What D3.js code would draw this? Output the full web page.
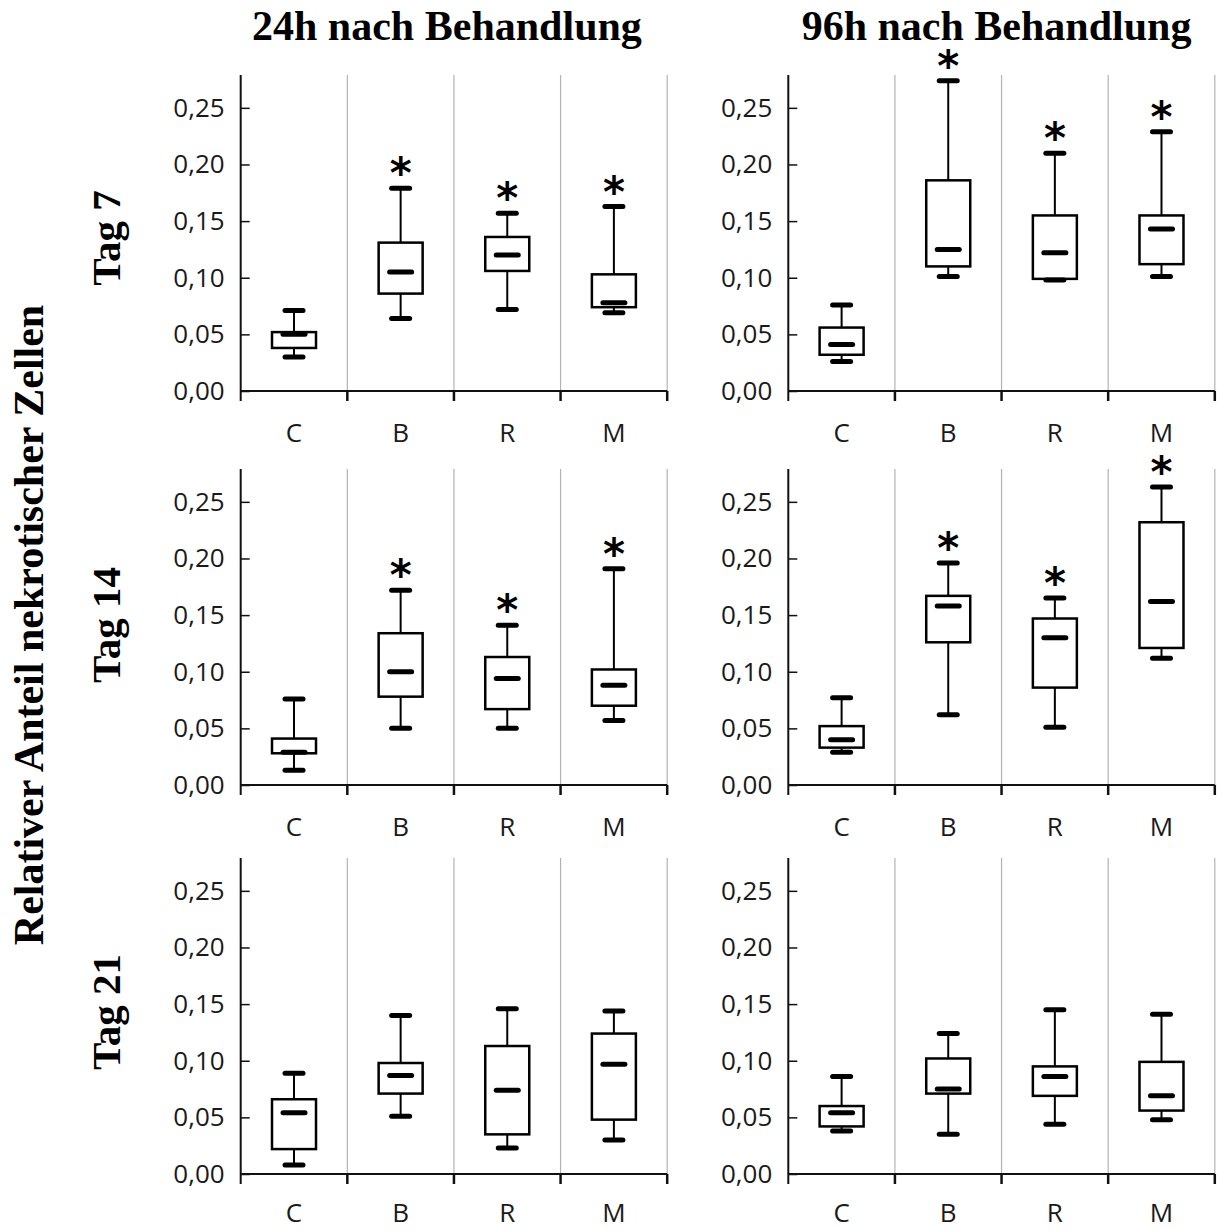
<!DOCTYPE html>
<html>
<head>
<meta charset="utf-8">
<script src="https://cdn.jsdelivr.net/npm/d3@7"></script>
<style>
  html, body { margin: 0; padding: 0; background: #fff; }
  svg { display: block; }
</style>
</head>
<body>
<svg id="chart" width="1217" height="1231"></svg>
<script>
// ---------- data ----------
const categories = ["C", "B", "R", "M"];
const columnTitles = ["24h nach Behandlung", "96h nach Behandlung"];
const rowLabels = ["Tag 7", "Tag 14", "Tag 21"];
const yAxisTitle = "Relativer Anteil nekrotischer Zellen";
const yTicks = [0, 0.05, 0.10, 0.15, 0.20, 0.25];

// five-number summaries per category: [whisker low, Q1, median, Q3, whisker high]
const tag7_24h = [
  [0.030, 0.038, 0.050, 0.052, 0.071],
  [0.064, 0.086, 0.105, 0.131, 0.179],
  [0.072, 0.106, 0.120, 0.136, 0.157],
  [0.069, 0.074, 0.078, 0.103, 0.163]
];
const tag7_96h = [
  [0.026, 0.032, 0.041, 0.056, 0.076],
  [0.101, 0.110, 0.125, 0.186, 0.274],
  [0.098, 0.099, 0.122, 0.155, 0.210],
  [0.101, 0.112, 0.143, 0.155, 0.229]
];
const tag14_24h = [
  [0.013, 0.028, 0.029, 0.041, 0.076],
  [0.050, 0.078, 0.100, 0.134, 0.172],
  [0.050, 0.067, 0.094, 0.113, 0.141],
  [0.057, 0.070, 0.088, 0.102, 0.191]
];
const tag14_96h = [
  [0.029, 0.033, 0.040, 0.052, 0.077],
  [0.062, 0.126, 0.158, 0.167, 0.196],
  [0.051, 0.086, 0.130, 0.147, 0.165],
  [0.112, 0.121, 0.162, 0.232, 0.263]
];
const tag21_24h = [
  [0.008, 0.022, 0.054, 0.066, 0.089],
  [0.051, 0.071, 0.087, 0.098, 0.140],
  [0.023, 0.035, 0.074, 0.113, 0.146],
  [0.030, 0.048, 0.097, 0.124, 0.144]
];
const tag21_96h = [
  [0.038, 0.042, 0.054, 0.060, 0.086],
  [0.035, 0.071, 0.075, 0.102, 0.124],
  [0.044, 0.069, 0.086, 0.095, 0.145],
  [0.048, 0.056, 0.069, 0.099, 0.141]
];
// significance markers (*)
const sig_tag7_24h  = [false, true, true, true];
const sig_tag7_96h  = [false, true, true, true];
const sig_tag14_24h = [false, true, true, true];
const sig_tag14_96h = [false, true, true, true];
const sig_tag21_24h = [false, false, false, false];
const sig_tag21_96h = [false, false, false, false];

const panels = [
  { row: 0, col: 0, stats: tag7_24h,  sig: sig_tag7_24h },
  { row: 0, col: 1, stats: tag7_96h,  sig: sig_tag7_96h },
  { row: 1, col: 0, stats: tag14_24h, sig: sig_tag14_24h },
  { row: 1, col: 1, stats: tag14_96h, sig: sig_tag14_96h },
  { row: 2, col: 0, stats: tag21_24h, sig: sig_tag21_24h },
  { row: 2, col: 1, stats: tag21_96h, sig: sig_tag21_96h }
];

// ---------- layout ----------
const colX = [240.7, 788.3];
const panelW = 426.5;
const rowZero = [391, 785, 1174];
const labelPad = [33, 33, 30];
const panelH = 316;
const yMax = 0.279;

const svg = d3.select("#chart");
const fmt = v => d3.format(".2f")(v).replace(".", ",");

const tickFont = "'Open Sans', sans-serif";
const tickSize = 26;
const serif = "'Liberation Serif', 'Times New Roman', serif";
const astSize = 42;

panels.forEach(p => {
  const x0 = colX[p.col];
  const zero = rowZero[p.row];
  const y = d3.scaleLinear().domain([0, yMax]).range([zero, zero - panelH]);
  const x = d3.scaleBand().domain(categories).range([x0, x0 + panelW]).padding(0);
  const bw = x.bandwidth();
  const g = svg.append("g");

  // gray category dividers
  g.selectAll("line.div").data(categories).join("line")
    .attr("x1", d => x(d) + bw).attr("x2", d => x(d) + bw)
    .attr("y1", y(yMax)).attr("y2", zero)
    .attr("stroke", "#b3b3b3").attr("stroke-width", 1.2);

  // y axis
  const yAxis = d3.axisLeft(y).tickValues(yTicks).tickFormat(fmt)
    .tickSizeInner(-9).tickSizeOuter(0).tickPadding(16);
  const ya = g.append("g").attr("transform", `translate(${x0},0)`).call(yAxis);
  ya.select(".domain").remove();
  ya.selectAll(".tick line").attr("stroke", "#111").attr("stroke-width", 1.5);
  ya.selectAll(".tick text").attr("font-family", tickFont).attr("font-size", tickSize)
    .attr("fill", "#1a1a1a");
  g.append("line").attr("x1", x0).attr("x2", x0)
    .attr("y1", y(yMax)).attr("y2", zero + 10)
    .attr("stroke", "#111").attr("stroke-width", 2);

  // x axis labels
  const xAxis = d3.axisBottom(x).tickSize(0).tickPadding(labelPad[p.row]);
  const xa = g.append("g").attr("transform", `translate(0,${zero})`).call(xAxis);
  xa.select(".domain").remove();
  xa.selectAll(".tick text").attr("font-family", tickFont).attr("font-size", tickSize)
    .attr("fill", "#1a1a1a");
  g.append("line").attr("x1", x0).attr("x2", x0 + panelW)
    .attr("y1", zero).attr("y2", zero)
    .attr("stroke", "#111").attr("stroke-width", 2);
  g.selectAll("line.xt").data(categories).join("line")
    .attr("x1", d => x(d) + bw).attr("x2", d => x(d) + bw)
    .attr("y1", zero).attr("y2", zero + 10)
    .attr("stroke", "#111").attr("stroke-width", 2.5);

  // boxes
  const boxW = 44, capW = 18, medW = 22;
  const bx = g.selectAll("g.box").data(p.stats).join("g")
    .attr("transform", (d, i) => `translate(${x(categories[i]) + bw / 2},0)`);
  // whiskers
  bx.append("line").attr("x1", 0).attr("x2", 0)
    .attr("y1", d => y(d[0])).attr("y2", d => y(d[1]))
    .attr("stroke", "#000").attr("stroke-width", 2);
  bx.append("line").attr("x1", 0).attr("x2", 0)
    .attr("y1", d => y(d[3])).attr("y2", d => y(d[4]))
    .attr("stroke", "#000").attr("stroke-width", 2);
  // box
  bx.append("rect")
    .attr("x", -boxW / 2).attr("width", boxW)
    .attr("y", d => y(d[3])).attr("height", d => y(d[1]) - y(d[3]))
    .attr("fill", "#fff").attr("stroke", "#000").attr("stroke-width", 2.5);
  // caps
  bx.append("line").attr("x1", -capW / 2).attr("x2", capW / 2)
    .attr("y1", d => y(d[0])).attr("y2", d => y(d[0]))
    .attr("stroke", "#000").attr("stroke-width", 5).attr("stroke-linecap", "round");
  bx.append("line").attr("x1", -capW / 2).attr("x2", capW / 2)
    .attr("y1", d => y(d[4])).attr("y2", d => y(d[4]))
    .attr("stroke", "#000").attr("stroke-width", 5).attr("stroke-linecap", "round");
  // median
  bx.append("line").attr("x1", -medW / 2).attr("x2", medW / 2)
    .attr("y1", d => y(d[2])).attr("y2", d => y(d[2]))
    .attr("stroke", "#000").attr("stroke-width", 5).attr("stroke-linecap", "round");
  // significance asterisks
  bx.filter((d, i) => p.sig[i]).append("text")
    .attr("x", 0).attr("y", d => y(d[4]) - 20 + 0.48 * astSize)
    .attr("text-anchor", "middle")
    .attr("font-family", "'DejaVu Sans', sans-serif").attr("font-weight", "bold")
    .attr("font-size", astSize).attr("fill", "#000")
    .text("*");
});

// column titles
svg.selectAll("text.coltitle").data(columnTitles).join("text")
  .attr("x", (d, i) => colX[i] + panelW / 2 - 7 + (i === 1 ? 2 : 0)).attr("y", 40)
  .attr("text-anchor", "middle")
  .attr("font-family", serif).attr("font-weight", "bold").attr("font-size", 42)
  .attr("fill", "#000").text(d => d);

// row labels
const rowCenters = [238, 625, 1012];
svg.selectAll("text.rowlabel").data(rowLabels).join("text")
  .attr("transform", (d, i) => `translate(120,${rowCenters[i]}) rotate(-90)`)
  .attr("text-anchor", "middle")
  .attr("font-family", serif).attr("font-weight", "bold").attr("font-size", 41)
  .attr("fill", "#000").text(d => d);

// overall y title
svg.append("text")
  .attr("transform", "translate(43,625) rotate(-90)")
  .attr("text-anchor", "middle")
  .attr("font-family", serif).attr("font-weight", "bold").attr("font-size", 42)
  .attr("fill", "#000").text(yAxisTitle);
</script>
</body>
</html>
